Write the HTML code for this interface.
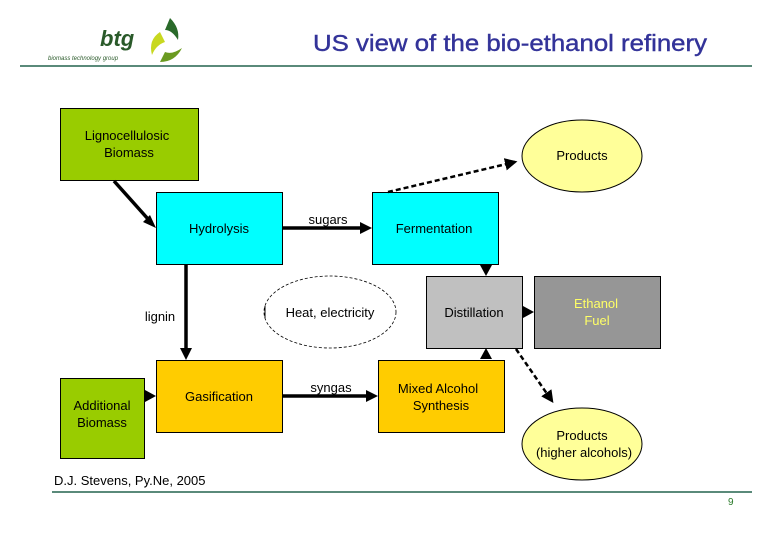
<!DOCTYPE html>
<html><head><meta charset="utf-8"><style>
body{margin:0;background:#fff;}
svg text{font-family:"Liberation Sans",Arial,sans-serif;}
</style></head><body>
<svg width="780" height="540" viewBox="0 0 780 540" xmlns="http://www.w3.org/2000/svg">
<defs>
<marker id="b" markerWidth="5" markerHeight="5" refX="4" refY="2.5" orient="auto" markerUnits="strokeWidth"><path d="M0,0 L5,2.5 L0,5 z" fill="#000"/></marker>
</defs>
<text x="100" y="46" font-size="22" font-weight="bold" font-style="italic" fill="#2a5a2a">btg</text>
<text x="48" y="60" font-size="6" font-style="italic" fill="#2a5a2a">biomass technology group</text>
<path d="M160,32 Q148,40 152,55 Q156,45 165,42 Z" fill="#c8d820"/>
<path d="M170,18 Q180,28 178,40 Q172,30 165,30 Z" fill="#2a6a2a"/>
<path d="M160,62 Q175,62 182,48 Q172,55 165,52 Z" fill="#6a9a20"/>
<text x="313" y="51" font-size="23" fill="#333399" stroke="#333399" stroke-width="0.4" textLength="394" lengthAdjust="spacingAndGlyphs">US view of the bio-ethanol refinery</text>
<line x1="20" y1="66" x2="752" y2="66" stroke="#5a8a7a" stroke-width="2"/>
<g stroke="#000" stroke-width="1">
<rect x="60.5" y="108.5" width="138" height="72" fill="#99cc00"/>
<rect x="156.5" y="192.5" width="126" height="72" fill="#00ffff"/>
<rect x="372.5" y="192.5" width="126" height="72" fill="#00ffff"/>
<rect x="426.5" y="276.5" width="96" height="72" fill="#c0c0c0"/>
<rect x="534.5" y="276.5" width="126" height="72" fill="#969696"/>
<rect x="156.5" y="360.5" width="126" height="72" fill="#ffcc00"/>
<rect x="378.5" y="360.5" width="126" height="72" fill="#ffcc00"/>
<rect x="60.5" y="378.5" width="84" height="80" fill="#99cc00"/>
<ellipse cx="582" cy="156" rx="60" ry="36" fill="#ffff99"/>
<ellipse cx="582" cy="444" rx="60" ry="36" fill="#ffff99"/>
</g>
<ellipse cx="330" cy="312" rx="66" ry="36" fill="none" stroke="#000" stroke-width="0.8" stroke-dasharray="3,2"/>
<line x1="265" y1="306" x2="265" y2="318" stroke="#000" stroke-width="1"/>
<rect x="52" y="459" width="180" height="30" fill="#fff"/>
<g stroke="#000" stroke-width="3.5" fill="none">
<line x1="114" y1="181" x2="148" y2="219"/>
<line x1="186" y1="265" x2="186" y2="350"/>
<line x1="283" y1="228" x2="362" y2="228"/>
<line x1="283" y1="396" x2="368" y2="396"/>
</g>
<g fill="#000">
<polygon points="156,228 143,222 150,215"/>
<polygon points="186,360 180,348 192,348"/>
<polygon points="372,228 360,222 360,234"/>
<polygon points="378,396 366,390 366,402"/>
<polygon points="156,396 145,390 145,402"/>
<polygon points="486,276 480,265 492,265"/>
<polygon points="486,348 480,359 492,359"/>
<polygon points="534,312 523,306 523,318"/>
</g>
<g stroke="#000" stroke-width="2.5" fill="none" stroke-dasharray="5,3">
<line x1="388" y1="192" x2="515" y2="162" marker-end="url(#b)"/>
<line x1="516" y1="349" x2="552" y2="401" marker-end="url(#b)"/>
</g>
<g font-size="13" fill="#000" text-anchor="middle">
<text x="127" y="140">Lignocellulosic</text>
<text x="129" y="157">Biomass</text>
<text x="219" y="233">Hydrolysis</text>
<text x="434" y="233">Fermentation</text>
<text x="474" y="317">Distillation</text>
<text x="596" y="308" fill="#ffff66">Ethanol</text>
<text x="597" y="325" fill="#ffff66">Fuel</text>
<text x="219" y="401">Gasification</text>
<text x="438" y="393">Mixed Alcohol</text>
<text x="441" y="410">Synthesis</text>
<text x="102" y="410">Additional</text>
<text x="102" y="427">Biomass</text>
<text x="582" y="160">Products</text>
<text x="582" y="440">Products</text>
<text x="584" y="457">(higher alcohols)</text>
<text x="328" y="224">sugars</text>
<text x="331" y="392">syngas</text>
<text x="160" y="321">lignin</text>
<text x="330" y="317">Heat, electricity</text>
</g>
<text x="54" y="485" font-size="13">D.J. Stevens, Py.Ne, 2005</text>
<line x1="52" y1="492" x2="752" y2="492" stroke="#5a8a7a" stroke-width="2"/>
<text x="728" y="505" font-size="10" fill="#2a7a2a">9</text>
</svg>
</body></html>
